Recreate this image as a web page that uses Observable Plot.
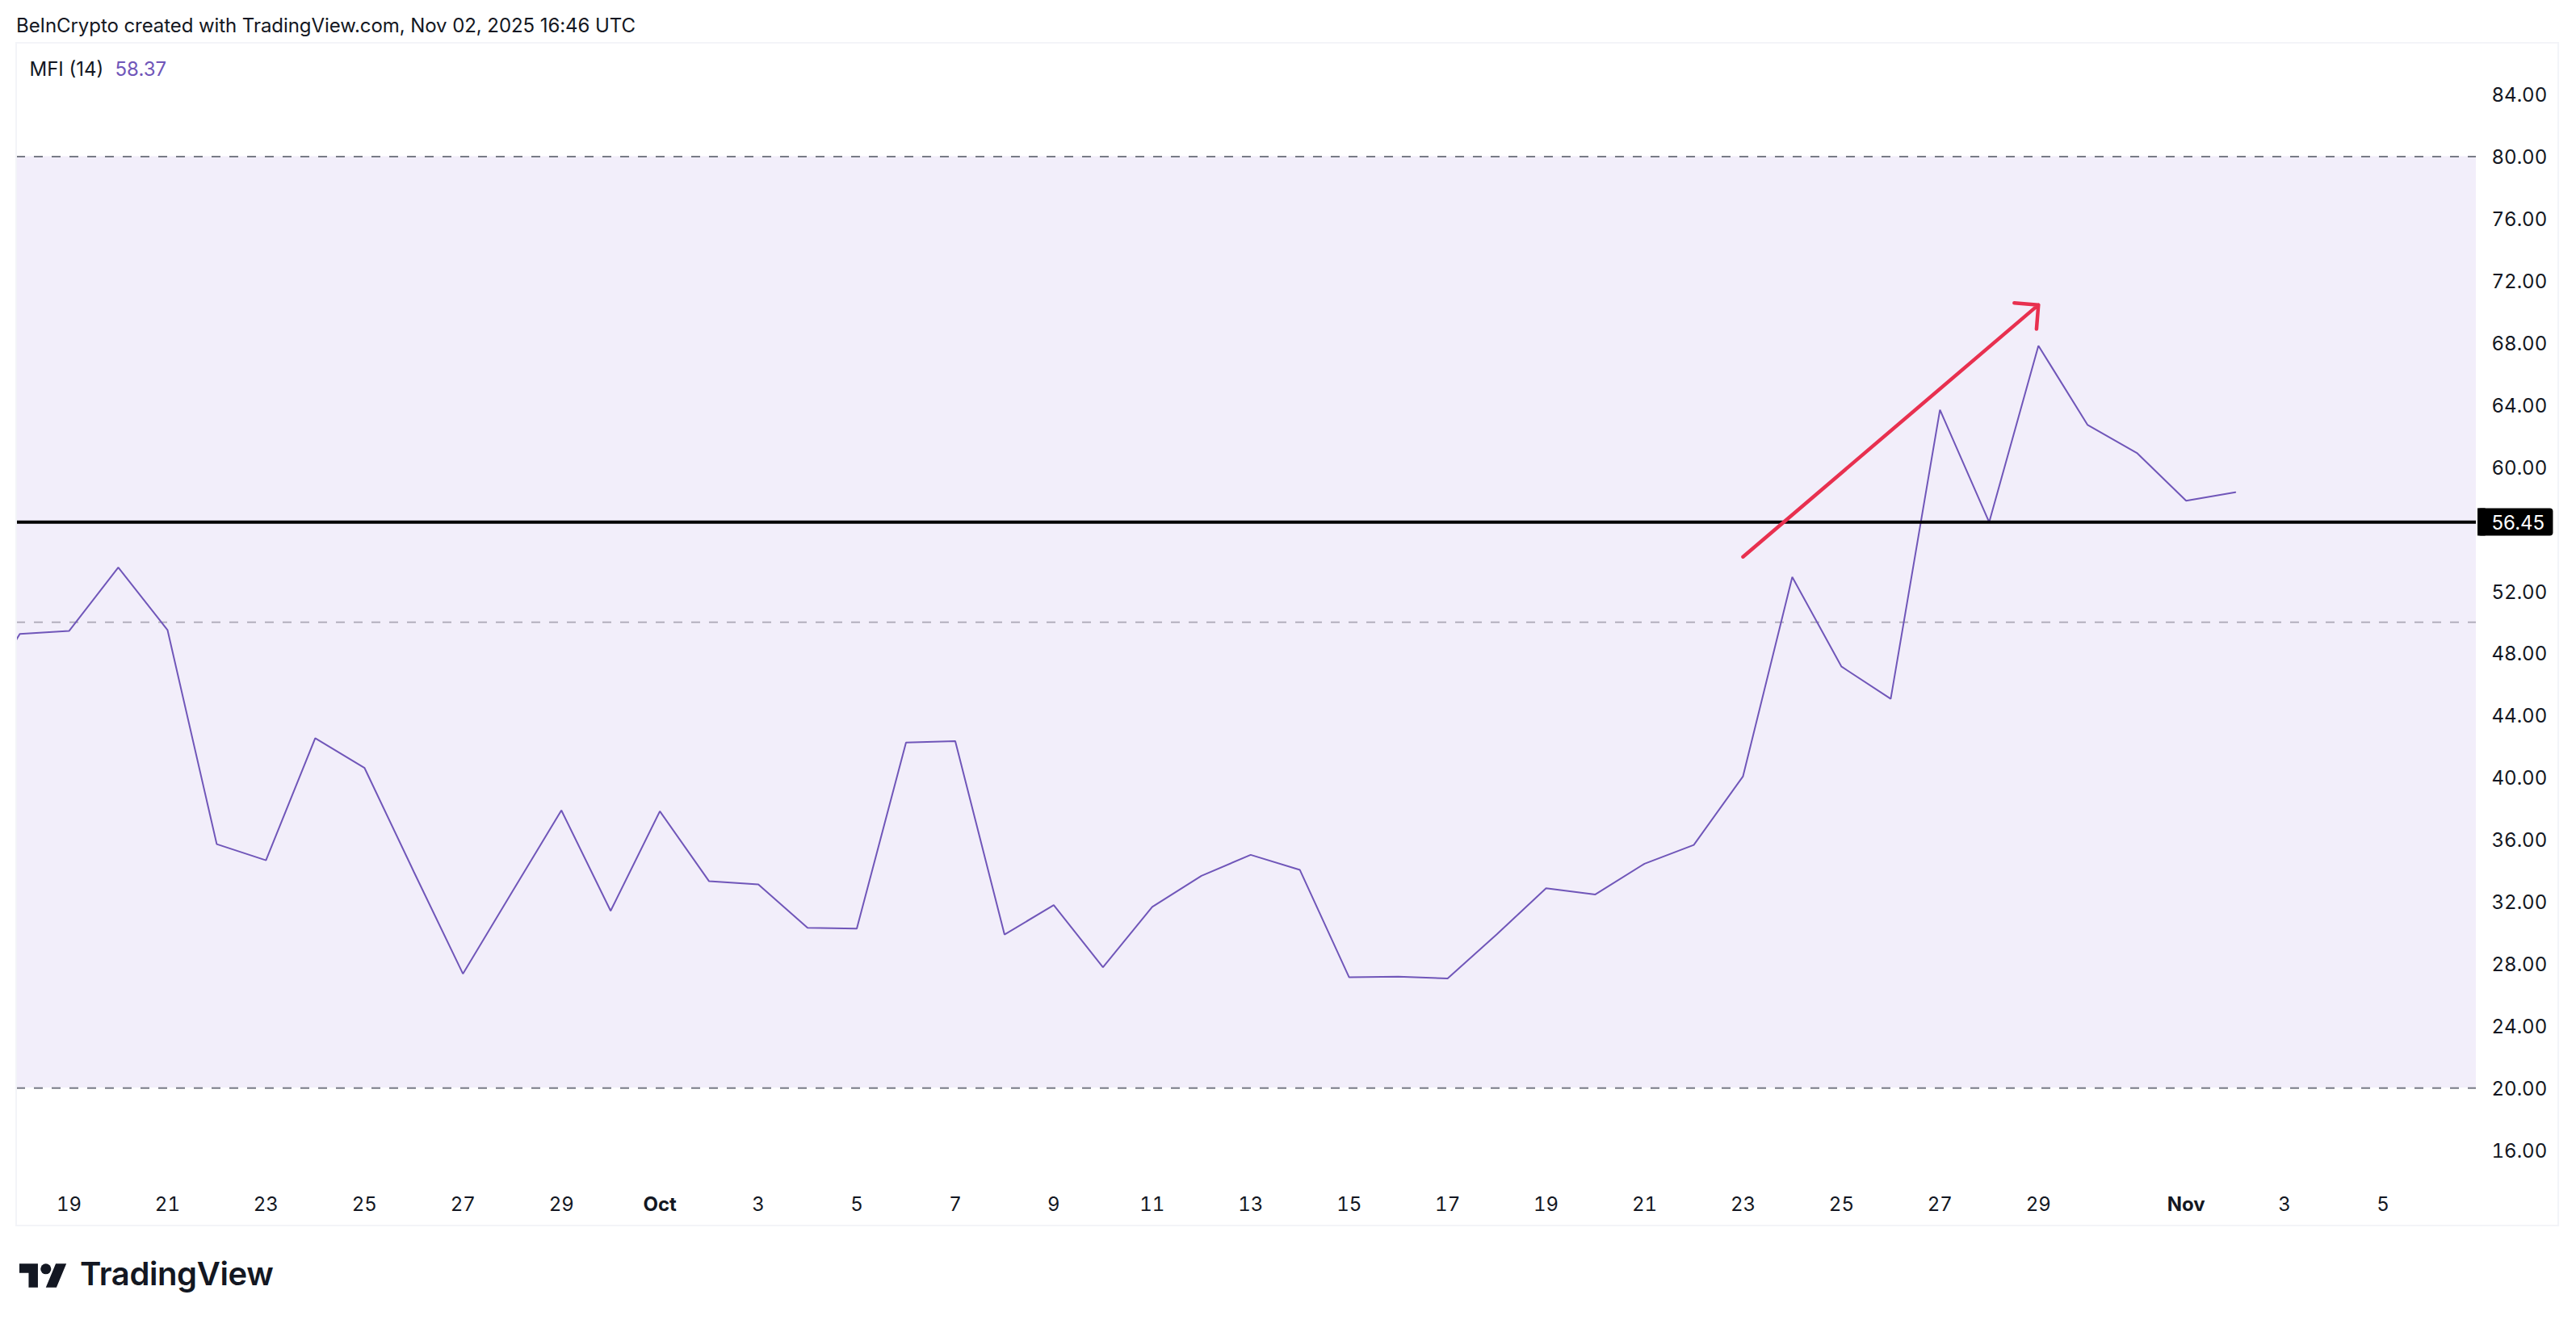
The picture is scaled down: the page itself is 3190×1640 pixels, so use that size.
<!DOCTYPE html>
<html>
<head>
<meta charset="utf-8">
<script src="https://cdn.jsdelivr.net/npm/d3@7"></script>
<script src="https://cdn.jsdelivr.net/npm/@observablehq/plot@0.6"></script>
<style>
  html, body { margin: 0; padding: 0; background: #fff; }
  body { width: 3190px; height: 1640px; position: relative; overflow: hidden;
         font-family: Inter, "Noto Sans", sans-serif; color: #131722; }
  #head { height: 53px; box-sizing: border-box; padding: 16px 0 0 20px; font-size: 24px; letter-spacing: -0.07px; line-height: 32px; white-space: nowrap; }
  #chart svg { display: block; }
  #panel { position: absolute; left: 19px; top: 52px; width: 3150px; height: 1467px; box-sizing: border-box;
           border: 2px solid #f3f4f8; pointer-events: none; }
  #foot { position: absolute; left: 24px; top: 1554px; height: 48px; display: flex; align-items: center; gap: 16px; }
  #foot svg { width: 59px; height: 30px; fill: #131722; margin-top: 4px; }
  #foot span { font-size: 40px; font-weight: 600; letter-spacing: -0.4px; line-height: 48px; }
</style>
</head>
<body>
<div id="head"></div>
<div id="chart"></div>
<div id="panel"></div>
<div id="foot">
  <svg viewBox="0 4 36 18" aria-hidden="true"><path d="M14 22H7V11H0V4h14v18zM28 22h-8l7.5-18h8L28 22z"/><circle cx="20" cy="8" r="4"/></svg>
  <span id="brand"></span>
</div>
<script>
const headerText = "BeInCrypto created with TradingView.com, Nov 02, 2025 16:46 UTC";
const brandText = "TradingView";
const legendName = "MFI (14)";
const legendValue = "58.37";

const mfiDates = [
  "2025-09-17","2025-09-18","2025-09-19","2025-09-20","2025-09-21","2025-09-22","2025-09-23","2025-09-24",
  "2025-09-25","2025-09-26","2025-09-27","2025-09-28","2025-09-29","2025-09-30","2025-10-01","2025-10-02",
  "2025-10-03","2025-10-04","2025-10-05","2025-10-06","2025-10-07","2025-10-08","2025-10-09","2025-10-10",
  "2025-10-11","2025-10-12","2025-10-13","2025-10-14","2025-10-15","2025-10-16","2025-10-17","2025-10-18",
  "2025-10-19","2025-10-20","2025-10-21","2025-10-22","2025-10-23","2025-10-24","2025-10-25","2025-10-26",
  "2025-10-27","2025-10-28","2025-10-29","2025-10-30","2025-10-31","2025-11-01","2025-11-02"
];
const mfiValues = [
  44.0, 49.25, 49.44, 53.53, 49.51, 35.71, 34.67, 42.54,
  40.63, 33.95, 27.36, 32.63, 37.89, 31.41, 37.83, 33.32,
  33.11, 30.32, 30.27, 42.26, 42.35, 29.89, 31.78, 27.78,
  31.67, 33.67, 35.02, 34.05, 27.13, 27.18, 27.06, 29.91,
  32.87, 32.47, 34.45, 35.66, 40.08, 52.92, 47.15, 45.07,
  63.69, 56.45, 67.82, 62.71, 60.91, 57.83, 58.38
];

const dayTicks = [
  "2025-09-19","2025-09-21","2025-09-23","2025-09-25","2025-09-27","2025-09-29",
  "2025-10-03","2025-10-05","2025-10-07","2025-10-09","2025-10-11","2025-10-13","2025-10-15","2025-10-17",
  "2025-10-19","2025-10-21","2025-10-23","2025-10-25","2025-10-27","2025-10-29",
  "2025-11-03","2025-11-05"
];
const monthTicks = ["2025-10-01","2025-11-01"];
const monthNames = {9: "Oct", 10: "Nov"};
const yTicks = [16,20,24,28,32,36,40,44,48,52,60,64,68,72,76,80,84];

const xDomain = ["2025-09-17T22:25Z","2025-11-06T21:26Z"];
const yDomain = [14.03, 87.307];
const bandLevels = {low: 20, mid: 50, high: 80};
const priceLevel = 56.45;
const priceBox = {x1: "2025-11-06T22:14Z", x2: "2025-11-08T11:00Z", y1: 55.56, y2: 57.33};
const priceBoxLeft = {x1: "2025-11-06T22:14Z", x2: "2025-11-07T02:00Z", y1: 55.56, y2: 57.33};
const arrowFrom = {date: "2025-10-23", value: 54.22};
const arrowTo = {date: "2025-10-29", value: 70.45};

const mfi = mfiDates.map((d, i) => ({date: new Date(d), value: mfiValues[i]}));
const fontFamily = 'Inter, "Noto Sans", sans-serif';
const ink = "#131722";
const violet = "#7056b9";

document.getElementById("head").textContent = headerText;
document.getElementById("brand").textContent = brandText;

const chart = Plot.plot({
  width: 3190,
  height: 1466,
  marginLeft: 20,
  marginRight: 124,
  marginTop: 0,
  marginBottom: 57,
  style: {fontFamily, background: "transparent", overflow: "visible"},
  x: {type: "utc", domain: xDomain.map(d => new Date(d))},
  y: {domain: yDomain},
  marks: [
    Plot.rectY([bandLevels], {y1: "low", y2: "high", fill: "#f2eefa"}),
    Plot.ruleY([bandLevels.high, bandLevels.low], {stroke: "#787b86", strokeWidth: 2, strokeDasharray: "11 11"}),
    Plot.ruleY([bandLevels.mid], {stroke: "#b3afbd", strokeWidth: 2, strokeDasharray: "11 11"}),
    Plot.line(mfi, {x: "date", y: "value", stroke: violet, strokeWidth: 2, clip: true, strokeLinejoin: "miter"}),
    Plot.ruleY([priceLevel], {stroke: "#000", strokeWidth: 4}),
    Plot.arrow([{}], {
      x1: () => new Date(arrowFrom.date), y1: () => arrowFrom.value,
      x2: () => new Date(arrowTo.date), y2: () => arrowTo.value,
      stroke: "#e8304f", strokeWidth: 4.5, headAngle: 90, headLength: 10, inset: 0
    }),
    Plot.axisY(yTicks, {
      anchor: "right", tickSize: 0, tickPadding: 19, label: null, fontSize: 24, fill: ink, dy: 1.5,
      tickFormat: d => d.toFixed(2), textAnchor: "start"
    }),
    Plot.axisX(dayTicks.map(d => new Date(d)), {
      tickSize: 0, tickPadding: 20, label: null, fontSize: 24, fill: ink, tickFormat: d => String(d.getUTCDate())
    }),
    Plot.axisX(monthTicks.map(d => new Date(d)), {
      tickSize: 0, tickPadding: 20, label: null, fontSize: 24, fill: ink, fontWeight: 700, tickFormat: d => monthNames[d.getUTCMonth()]
    }),
    Plot.rect([priceBox], {x1: d => new Date(d.x1), x2: d => new Date(d.x2), y1: "y1", y2: "y2", fill: "#000", rx: 4}),
    Plot.rect([priceBoxLeft], {x1: d => new Date(d.x1), x2: d => new Date(d.x2), y1: "y1", y2: "y2", fill: "#000"}),
    Plot.text([priceLevel], {
      y: d => d, text: d => d.toFixed(2), frameAnchor: "right", dx: 19, dy: 1, textAnchor: "start", fill: "#fff", fontSize: 24
    }),
    Plot.text([legendName], {frameAnchor: "top-left", dx: 16, dy: 33, lineAnchor: "middle", textAnchor: "start", fill: ink, fontSize: 24}),
    Plot.text([legendValue], {frameAnchor: "top-left", dx: 122, dy: 33, lineAnchor: "middle", textAnchor: "start", fill: violet, fontSize: 24})
  ]
});
document.getElementById("chart").appendChild(chart);
</script>
</body>
</html>
